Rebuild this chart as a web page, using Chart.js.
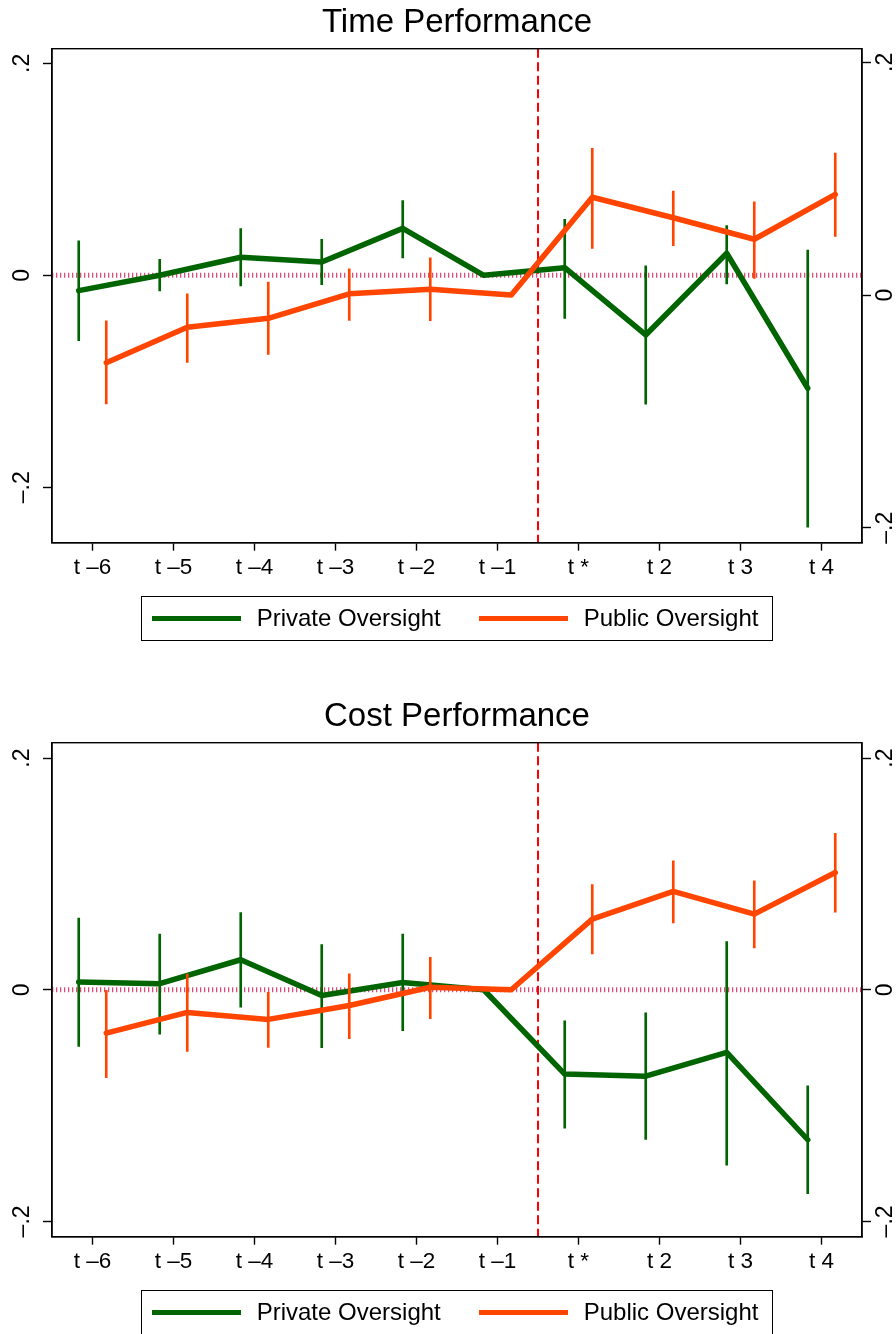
<!DOCTYPE html>
<html>
<head>
<meta charset="utf-8">
<script src="https://cdn.jsdelivr.net/npm/chart.js@4.4.1/dist/chart.umd.min.js"></script>
<style>
  html, body { margin: 0; padding: 0; background: #fff; }
  body { width: 896px; height: 1334px; overflow: hidden; position: relative; font-family: "Liberation Sans", Arial, sans-serif; }
  .panel { position: absolute; left: 0; width: 896px; height: 694px; }
  .panel canvas { position: absolute; left: 0; top: 0; }
  .legend { position: absolute; left: 141px; top: 596px; width: 632px; height: 45px; border: 1.3px solid #000; box-sizing: border-box; }
  .legend .sample { position: absolute; top: 19px; width: 89px; height: 5px; }
  .legend .name { position: absolute; top: 0; line-height: 42px; font-size: 24px; color: #000; white-space: nowrap; }
</style>
</head>
<body>
<div class="panel" style="top:0px"><canvas id="timeChart" width="896" height="694"></canvas><div class="legend" id="timeLegend"></div></div>
<div class="panel" style="top:694px"><canvas id="costChart" width="896" height="694"></canvas><div class="legend" id="costLegend"></div></div>
<script>
// categories and tick labels
const xLabels = ["t \u20136", "t \u20135", "t \u20134", "t \u20133", "t \u20132", "t \u20131", "t *", "t 2", "t 3", "t 4"];
const yTickValues = [-0.2, 0, 0.2];
const yTickLabels = ["\u2013.2", "0", ".2"];
const seriesNames = ["Private Oversight", "Public Oversight"];
const seriesColors = ["#006400", "#ff4500"];

// Time performance (private on left axis, public on right axis)
const timePrivate   = [-0.0145, 0.0, 0.017, 0.0125, 0.0443, 0, 0.0072, -0.0563, 0.0208, -0.1066];
const timePrivateLo = [-0.0617, -0.0148, -0.010, -0.0089, 0.0163, null, -0.0406, -0.1217, -0.0082, -0.2377];
const timePrivateHi = [0.0326, 0.0151, 0.044, 0.034, 0.0704, null, 0.0528, 0.009, 0.047, 0.0239];
const timePublic    = [-0.0582, -0.0278, -0.020, 0.001, 0.005, 0, 0.084, 0.0664, 0.0479, 0.0865];
const timePublicLo  = [-0.0937, -0.0579, -0.051, -0.0218, -0.022, null, 0.040, 0.0424, 0.0143, 0.0504];
const timePublicHi  = [-0.0223, 0.001, 0.011, 0.0226, 0.032, null, 0.126, 0.0894, 0.080, 0.122];

// Cost performance
const costPrivate   = [0.0066, 0.0052, 0.0259, -0.0049, 0.0063, 0, -0.0728, -0.0746, -0.0541, -0.1295];
const costPrivateLo = [-0.049, -0.0383, -0.015, -0.050, -0.0354, null, -0.1195, -0.1292, -0.1514, -0.1761];
const costPrivateHi = [0.0618, 0.048, 0.0667, 0.039, 0.048, null, -0.0268, -0.0199, 0.0417, -0.0829];
const costPublic    = [-0.0374, -0.0196, -0.0256, -0.0136, 0.0022, 0, 0.061, 0.0849, 0.0653, 0.1012];
const costPublicLo  = [-0.076, -0.0533, -0.0498, -0.0423, -0.025, null, 0.031, 0.0578, 0.0362, 0.067];
const costPublicHi  = [0.0, 0.0135, -0.0023, 0.0138, 0.028, null, 0.0909, 0.1113, 0.094, 0.135];

const zeroLevel = 0;     // reference line
const treatmentAt = 5.5; // between t -1 and t *

const FONT = "'Liberation Sans', Arial, sans-serif";
const dodge = 0.17;

function linePoints(vals, shift) {
  return vals.map((v, i) => ({ x: i + shift, y: v }));
}
function ciBars(lo, hi, shift) {
  return lo.map((l, i) => ({ x: i + shift, y: [l, hi[i]] })).filter(d => d.y[0] !== null);
}

const refLines = {
  id: "refLines",
  beforeDatasetsDraw(chart) {
    const { ctx, chartArea: a, scales } = chart;
    ctx.save();
    const y0 = scales.y.getPixelForValue(zeroLevel);
    ctx.strokeStyle = "rgba(205,35,90,0.8)";
    ctx.lineWidth = 5;
    ctx.setLineDash([1.3, 2.7]);
    ctx.beginPath();
    ctx.moveTo(a.left, y0);
    ctx.lineTo(a.right, y0);
    ctx.stroke();
    const xv = scales.x.getPixelForValue(treatmentAt);
    ctx.strokeStyle = "#ff0000";
    ctx.lineWidth = 2;
    ctx.setLineDash([9, 4.5]);
    ctx.beginPath();
    ctx.moveTo(xv, a.top);
    ctx.lineTo(xv, a.bottom);
    ctx.stroke();
    ctx.restore();
  },
  afterDraw(chart) {
    const { ctx, chartArea: a } = chart;
    ctx.save();
    ctx.strokeStyle = "#000";
    ctx.lineWidth = 1.4;
    ctx.strokeRect(a.left, a.top, a.right - a.left, a.bottom - a.top);
    ctx.restore();
  }
};

function yAxis(position, range, pad) {
  return {
    position: position,
    min: range[0],
    max: range[1],
    afterBuildTicks: s => { s.ticks = yTickValues.map(v => ({ value: v })); },
    afterFit: s => { s.width = position === "left" ? 52 : 34; },
    ticks: {
      callback: (v, i) => yTickLabels[i],
      minRotation: 90, maxRotation: 90,
      crossAlign: "center",
      padding: pad,
      color: "#000",
      font: { family: FONT, size: 23 }
    },
    grid: { drawOnChartArea: false, drawTicks: true, tickLength: 9, tickColor: "#000", tickWidth: 1.4 },
    border: { display: true, color: "#000", width: 1.4 }
  };
}

function makePanel(canvasId, legendId, title, priv, privLo, privHi, pub, pubLo, pubHi, leftRange, rightRange) {
  new Chart(document.getElementById(canvasId), {
    type: "line",
    data: {
      datasets: [
        {
          type: "line",
          label: seriesNames[1],
          data: linePoints(pub, dodge),
          yAxisID: "y2",
          borderColor: seriesColors[1],
          borderWidth: 5.5,
          pointRadius: 0,
          borderJoinStyle: "round",
          borderCapStyle: "round",
          order: 0
        },
        {
          type: "bar",
          label: seriesNames[1] + " CI",
          data: ciBars(pubLo, pubHi, dodge),
          yAxisID: "y2",
          backgroundColor: seriesColors[1],
          barThickness: 2,
          grouped: false,
          borderWidth: 0,
          order: 1
        },
        {
          type: "line",
          label: seriesNames[0],
          data: linePoints(priv, -dodge),
          yAxisID: "y",
          borderColor: seriesColors[0],
          borderWidth: 5.5,
          pointRadius: 0,
          borderJoinStyle: "round",
          borderCapStyle: "round",
          order: 2
        },
        {
          type: "bar",
          label: seriesNames[0] + " CI",
          data: ciBars(privLo, privHi, -dodge),
          yAxisID: "y",
          backgroundColor: seriesColors[0],
          barThickness: 2,
          grouped: false,
          borderWidth: 0,
          order: 3
        }
      ]
    },
    options: {
      responsive: false,
      animation: false,
      layout: { padding: { left: 0, right: 0, top: 0, bottom: 111.3 } },
      plugins: {
        legend: { display: false },
        tooltip: { enabled: false },
        title: {
          display: true,
          fullSize: false,
          text: title,
          color: "#000",
          font: { family: FONT, size: 33, weight: "normal" },
          padding: { top: 3.1, bottom: 6 }
        }
      },
      scales: {
        x: {
          type: "linear",
          min: -0.5,
          max: 9.5,
          offset: false,
          afterBuildTicks: s => { s.ticks = xLabels.map((_, i) => ({ value: i })); },
          afterFit: s => { s.height = 40; },
          ticks: {
            callback: (v, i) => xLabels[i],
            autoSkip: false,
            maxRotation: 0, minRotation: 0,
            padding: 3.5,
            color: "#000",
            font: { family: FONT, size: 22.5 }
          },
          grid: { drawOnChartArea: false, drawTicks: true, tickLength: 8, tickColor: "#000", tickWidth: 1.4, offset: false },
          border: { display: true, color: "#000", width: 1.4 }
        },
        y: yAxis("left", leftRange, 4.6),
        y2: yAxis("right", rightRange, -1.7)
      }
    },
    plugins: [refLines]
  });

  // legend box
  const legend = document.getElementById(legendId);
  seriesNames.forEach((name, i) => {
    const sample = document.createElement("span");
    sample.className = "sample";
    sample.style.left = (9.7 + i * 327) + "px";
    sample.style.background = seriesColors[i];
    const label = document.createElement("span");
    label.className = "name";
    label.style.left = (114.7 + i * 327) + "px";
    label.textContent = name;
    legend.appendChild(sample);
    legend.appendChild(label);
  });
}

makePanel("timeChart", "timeLegend", "Time Performance",
  timePrivate, timePrivateLo, timePrivateHi, timePublic, timePublicLo, timePublicHi,
  [-0.2523, 0.2138], [-0.2129, 0.2117]);

makePanel("costChart", "costLegend", "Cost Performance",
  costPrivate, costPrivateLo, costPrivateHi, costPublic, costPublicLo, costPublicHi,
  [-0.2132, 0.2133], [-0.2132, 0.2133]);
</script>
</body>
</html>
